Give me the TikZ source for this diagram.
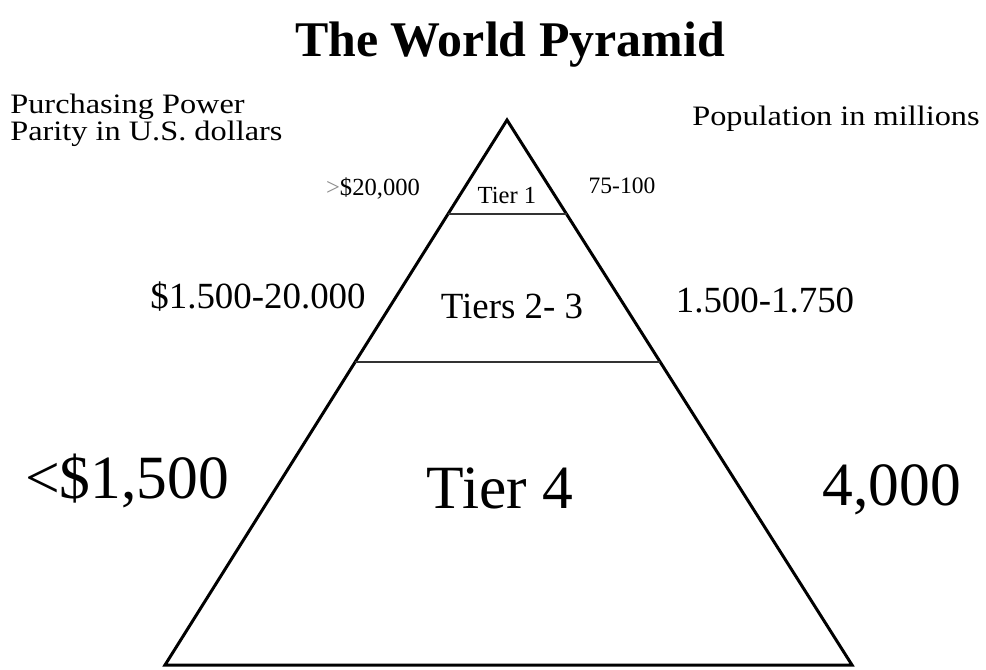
\documentclass[tikz,border=0pt]{standalone}
\usepackage{fontspec}
\setmainfont{Liberation Serif}
\usetikzlibrary{calc}

\newcommand{\wide}[1]{\scalebox{1.15}[1]{#1}}

\begin{document}
\begin{tikzpicture}[
  x=0.02cm, y=-0.02cm,
  outline/.style={line width=1.7pt, line join=miter},
  divider/.style={line width=1.1pt, draw=black!80},
  lbl/.style={inner sep=0pt, anchor=base},
  head lbl/.style={lbl, font=\fontsize{16}{15}\selectfont},
  huge lbl/.style={lbl, font=\fontsize{35}{40}\selectfont},
  mid lbl/.style={lbl, font=\fontsize{21}{24}\selectfont},
  small lbl/.style={lbl, font=\fontsize{14}{16}\selectfont}
]
  \useasboundingbox (0,0) rectangle (986,669);

  \node[lbl, font=\fontsize{28.4}{32}\selectfont\bfseries] (title) at (510,57) {The World Pyramid};

  % side headings
  \node[head lbl, anchor=base west, align=left] (ppp) at (10,140)
    {\wide{Purchasing Power}\\\wide{Parity in U.S. dollars}};
  \node[head lbl, anchor=base east] (pop) at (980,125) {\wide{Population in millions}};

  % pyramid
  \coordinate (apex) at (507,120);
  \coordinate (bl) at (165,665);
  \coordinate (br) at (852,665);
  \draw[outline] (apex) -- (bl) -- (br) -- cycle;
  \draw[divider] ($(apex)!0.1725!(bl)$) -- ($(apex)!0.1725!(br)$);
  \draw[divider] ($(apex)!0.444!(bl)$) -- ($(apex)!0.444!(br)$);

  % tier 1
  \node[small lbl] (ppp-t1) at (373,195) {\textcolor{black!45}{>}\$20,000};
  \node[small lbl] (t1) at (507,203) {Tier 1};
  \node[small lbl, font=\fontsize{13.4}{16}\selectfont] (pop-t1) at (622,193) {75-100};

  % tiers 2-3
  \node[mid lbl] (ppp-t23) at (258,308) {\$1.500-20.000};
  \node[mid lbl] (t23) at (512,318) {Tiers 2- 3};
  \node[mid lbl] (pop-t23) at (765,312) {1.500-1.750};

  % tier 4
  \node[huge lbl] (ppp-t4) at (127,498) {<\$1,500};
  \node[huge lbl] (t4) at (500,508) {Tier 4};
  \node[huge lbl] (pop-t4) at (892,505) {4,000};
\end{tikzpicture}
\end{document}
